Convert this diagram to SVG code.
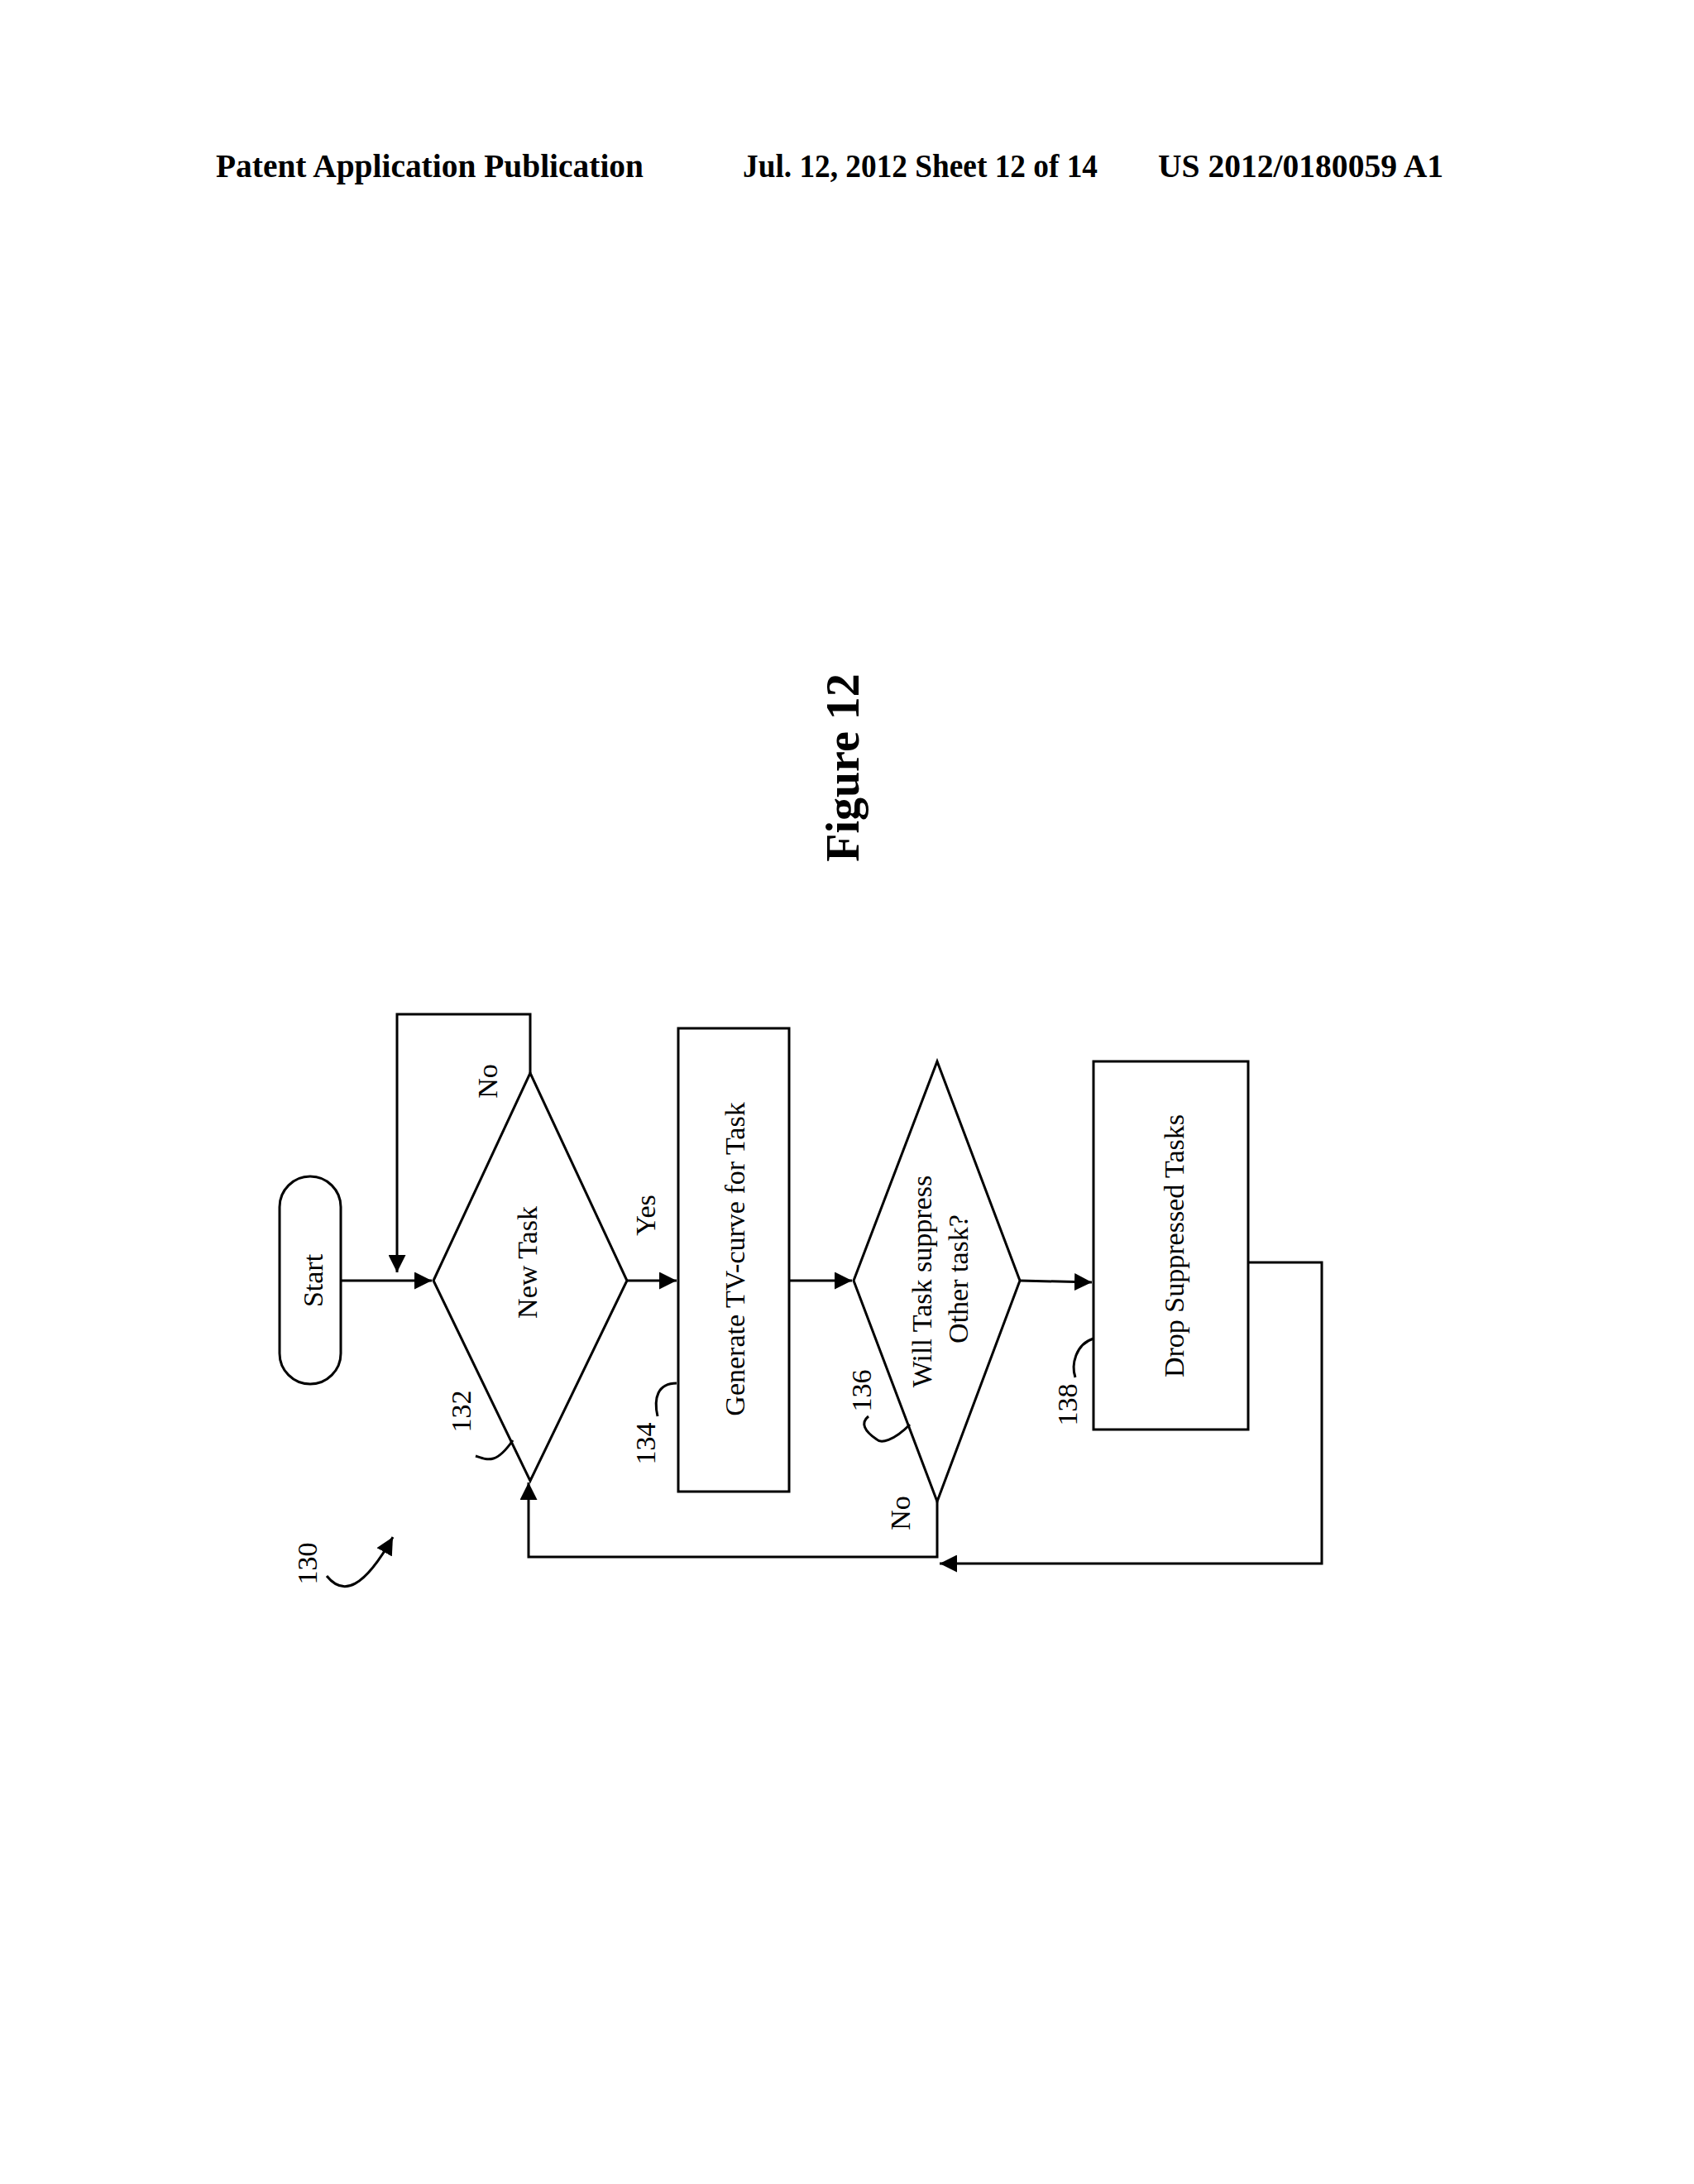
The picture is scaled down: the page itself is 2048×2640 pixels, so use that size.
<svg xmlns="http://www.w3.org/2000/svg" width="2048" height="2640" viewBox="0 0 2048 2640">
<style>
.s{fill:none;stroke:#000;stroke-width:3}
.t{font-family:"Liberation Serif",serif;font-size:34px;fill:#000;text-anchor:middle;dominant-baseline:central}
.h{font-family:"Liberation Serif",serif;font-size:40px;font-weight:bold;fill:#000}
</style>
<defs><marker id="a" viewBox="0 0 10 10" refX="10" refY="5" markerWidth="7" markerHeight="7" orient="auto"><path d="M0,0L10,5L0,10z"/></marker></defs>
<rect width="2048" height="2640" fill="#fff"/>
<text class="h" x="261" y="214" textLength="517" lengthAdjust="spacingAndGlyphs">Patent Application Publication</text>
<text class="h" x="898" y="214" textLength="429" lengthAdjust="spacingAndGlyphs">Jul. 12, 2012   Sheet 12 of 14</text>
<text class="h" x="1400" y="214" textLength="345" lengthAdjust="spacingAndGlyphs">US 2012/0180059 A1</text>
<text class="t" transform="translate(1019,928) rotate(-90)" style="font-size:56px;font-weight:bold">Figure 12</text>
<g id="start"><rect class="s" x="338" y="1422" width="74" height="251" rx="37"/><text class="t" transform="translate(378,1548) rotate(-90)">Start</text></g>
<g id="n132"><polygon class="s" points="524,1548 641,1297 758,1548 641,1790"/><text class="t" transform="translate(637,1526) rotate(-90)">New Task</text></g>
<g id="n134"><rect class="s" x="820" y="1243" width="134" height="560"/><text class="t" transform="translate(888,1522) rotate(-90)">Generate TV-curve for Task</text></g>
<g id="n136"><polygon class="s" points="1032,1548 1133,1283 1233,1548 1133,1815"/><text class="t" transform="translate(1114,1549) rotate(-90)">Will Task suppress</text><text class="t" transform="translate(1158,1546) rotate(-90)">Other task?</text></g>
<g id="n138"><rect class="s" x="1322" y="1283" width="187" height="445"/><text class="t" transform="translate(1419,1506) rotate(-90)">Drop Suppressed Tasks</text></g>
<g id="connectors">
<path class="s" d="M412,1548H522" marker-end="url(#a)"/>
<path class="s" d="M641,1297V1226H480V1538" marker-end="url(#a)"/>
<path class="s" d="M758,1548H818" marker-end="url(#a)"/>
<path class="s" d="M954,1548H1030" marker-end="url(#a)"/>
<path class="s" d="M1233,1548L1320,1550" marker-end="url(#a)"/>
<path class="s" d="M1509,1526H1598V1890H1136" marker-end="url(#a)"/>
<path class="s" d="M1133,1815V1882H639V1792" marker-end="url(#a)"/>
</g>
<g id="labels">
<text class="t" transform="translate(589,1307) rotate(-90)">No</text>
<text class="t" transform="translate(780,1469) rotate(-90)">Yes</text>
<text class="t" transform="translate(1088,1829) rotate(-90)">No</text>
<text class="t" transform="translate(557,1706) rotate(-90)">132</text>
<text class="t" transform="translate(780,1745) rotate(-90)">134</text>
<text class="t" transform="translate(1041,1681) rotate(-90)">136</text>
<text class="t" transform="translate(1290,1698) rotate(-90)">138</text>
<text class="t" transform="translate(371,1890) rotate(-90)">130</text>
<path class="s" d="M620,1741C600,1770 590,1765 575,1760"/>
<path class="s" d="M818,1672C795,1672 790,1690 795,1712"/>
<path class="s" d="M1100,1722C1080,1742 1065,1745 1060,1740C1045,1730 1040,1720 1050,1712"/>
<path class="s" d="M1322,1618C1300,1625 1295,1650 1300,1665"/>
<path class="s" d="M395,1905C415,1930 440,1920 475,1858" marker-end="url(#a)"/>
</g>
</svg>
